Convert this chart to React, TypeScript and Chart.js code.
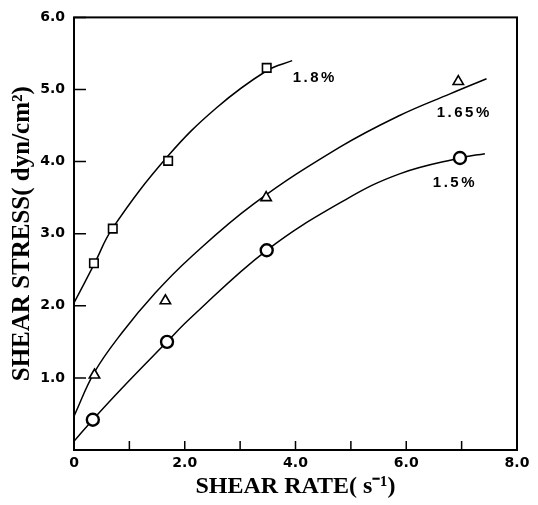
import React, { useEffect, useRef } from "react";
import { Chart, registerables } from "chart.js";

Chart.register(...registerables);

// Axis ticks
const xTickValues = [0, 1, 2, 3, 4, 5, 6, 7, 8];
const xTickLabels = ["0", "", "2.0", "", "4.0", "", "6.0", "", "8.0"];
const yTickValues = [0, 1, 2, 3, 4, 5, 6];
const yTickLabels = ["", "1.0", "2.0", "3.0", "4.0", "5.0", "6.0"];

// Series names
const seriesLabels = ["1.8%", "1.65%", "1.5%"];

// Measured points (shear rate s^-1, shear stress dyn/cm^2)
const rate18 = [0.36, 0.7, 1.7, 3.48];
const stress18 = [2.59, 3.07, 4.01, 5.3];
const rate165 = [0.37, 1.65, 3.47, 6.94];
const stress165 = [1.04, 2.07, 3.5, 5.11];
const rate15 = [0.34, 1.68, 3.48, 6.97];
const stress15 = [0.42, 1.5, 2.77, 4.05];

// Fitted curves
const fitRate18 = [0, 0.36, 0.7, 1.7, 2.58, 3.48, 3.94];
const fitStress18 = [2.04, 2.57, 3.08, 4.08, 4.75, 5.26, 5.4];
const fitRate165 = [0, 0.37, 0.87, 1.47, 2.09, 3.24, 4.8, 5.88, 6.79, 7.45];
const fitStress165 = [0.47, 1.08, 1.63, 2.18, 2.66, 3.41, 4.2, 4.64, 4.94, 5.15];
const fitRate15 = [0, 0.34, 0.87, 1.68, 2.09, 3.48, 4.9, 5.88, 6.97, 7.42];
const fitStress15 = [0.12, 0.42, 0.86, 1.5, 1.82, 2.77, 3.47, 3.83, 4.05, 4.11];

// Series label anchors (data coordinates)
const labelRate = [3.95, 6.55, 6.48];
const labelStress = [5.16, 4.67, 3.71];

const toPts = (xs: number[], ys: number[]) => xs.map((x, i) => ({ x, y: ys[i] }));

export default function App() {
  const ref = useRef<HTMLCanvasElement>(null);

  useEffect(() => {
    const canvas = ref.current;
    if (!canvas) return;

    const markers = [
      { data: toPts(rate18, stress18), style: "rect", r: 6, bw: 1.6 },
      { data: toPts(rate165, stress165), style: "triangle", r: 6, bw: 1.6 },
      { data: toPts(rate15, stress15), style: "circle", r: 6, bw: 2.4 },
    ];
    const fits = [
      toPts(fitRate18, fitStress18),
      toPts(fitRate165, fitStress165),
      toPts(fitRate15, fitStress15),
    ];

    const datasets: any[] = [
      ...markers.map((m) => ({
        data: m.data,
        showLine: false,
        pointStyle: m.style,
        pointRadius: m.r,
        pointBorderWidth: m.bw,
        pointBorderColor: "#000",
        pointBackgroundColor: "#fff",
        order: 0,
      })),
      ...fits.map((f) => ({
        data: f,
        showLine: true,
        borderColor: "#000",
        borderWidth: 1.5,
        pointRadius: 0,
        tension: 0.4,
        fill: false,
        order: 1,
      })),
    ];

    const framePlugin = {
      id: "frameAndLabels",
      afterDatasetsDraw(chart: any) {
        const { ctx, chartArea: a, scales } = chart;
        ctx.save();
        ctx.strokeStyle = "#000";
        ctx.lineWidth = 2;
        ctx.strokeRect(a.left, a.top, a.right - a.left, a.bottom - a.top);
        ctx.lineWidth = 1.5;
        ctx.beginPath();
        for (const v of xTickValues) {
          const px = scales.x.getPixelForValue(v);
          ctx.moveTo(px, a.bottom);
          ctx.lineTo(px, a.bottom - 9);
        }
        for (const v of yTickValues) {
          const py = scales.y.getPixelForValue(v);
          ctx.moveTo(a.left, py);
          ctx.lineTo(a.left + 12, py);
        }
        ctx.stroke();
        ctx.font = "bold 15px 'Liberation Sans'";
        (ctx as any).letterSpacing = "2.5px";
        ctx.fillStyle = "#000";
        ctx.textAlign = "left";
        ctx.textBaseline = "middle";
        seriesLabels.forEach((t, i) => {
          ctx.fillText(
            t,
            scales.x.getPixelForValue(labelRate[i]),
            scales.y.getPixelForValue(labelStress[i])
          );
        });
        ctx.restore();
      },
    };

    const tickFont = { family: "'DejaVu Sans'", weight: "bold" as const, size: 14 };

    const chart = new Chart(canvas, {
      type: "line",
      data: { datasets },
      options: {
        responsive: false,
        animation: false,
        devicePixelRatio: 1,
        layout: { padding: { left: 0, right: 21, top: 12, bottom: 0 } },
        plugins: { legend: { display: false }, tooltip: { enabled: false } },
        scales: {
          x: {
            type: "linear",
            min: 0,
            max: 8,
            afterBuildTicks: (s: any) => {
              s.ticks = xTickValues.map((v) => ({ value: v }));
            },
            afterFit: (s: any) => {
              s.height = 55;
            },
            grid: { display: false, drawTicks: false, tickLength: 0 },
            border: { display: false },
            ticks: {
              autoSkip: false,
              maxRotation: 0,
              padding: 5,
              color: "#000",
              font: tickFont,
              callback: (v: any) => xTickLabels[xTickValues.indexOf(Number(v))] ?? "",
            },
            title: {
              display: true,
              text: "SHEAR RATE( s⁻¹)",
              color: "#000",
              font: { family: "'Liberation Serif'", weight: "bold", size: 24 },
              padding: { top: 0, bottom: 4 },
            },
          },
          y: {
            type: "linear",
            min: 0,
            max: 6,
            afterBuildTicks: (s: any) => {
              s.ticks = yTickValues.map((v) => ({ value: v }));
            },
            afterFit: (s: any) => {
              s.width = 74;
            },
            grid: { display: false, drawTicks: false, tickLength: 0 },
            border: { display: false },
            ticks: {
              autoSkip: false,
              padding: 9,
              color: "#000",
              font: tickFont,
              callback: (v: any) => yTickLabels[yTickValues.indexOf(Number(v))] ?? "",
            },
            title: {
              display: true,
              text: "SHEAR STRESS( dyn/cm²)",
              color: "#000",
              font: { family: "'Liberation Serif'", weight: "bold", size: 25 },
              padding: { top: 8, bottom: 0 },
            },
          },
        },
      } as any,
      plugins: [framePlugin],
    });

    return () => chart.destroy();
  }, []);

  return (
    <div
      style={{
        position: "fixed",
        left: 0,
        top: 0,
        width: 538,
        height: 505,
        background: "#fff",
      }}
    >
      <canvas ref={ref} width={538} height={505} style={{ display: "block" }} />
    </div>
  );
}
